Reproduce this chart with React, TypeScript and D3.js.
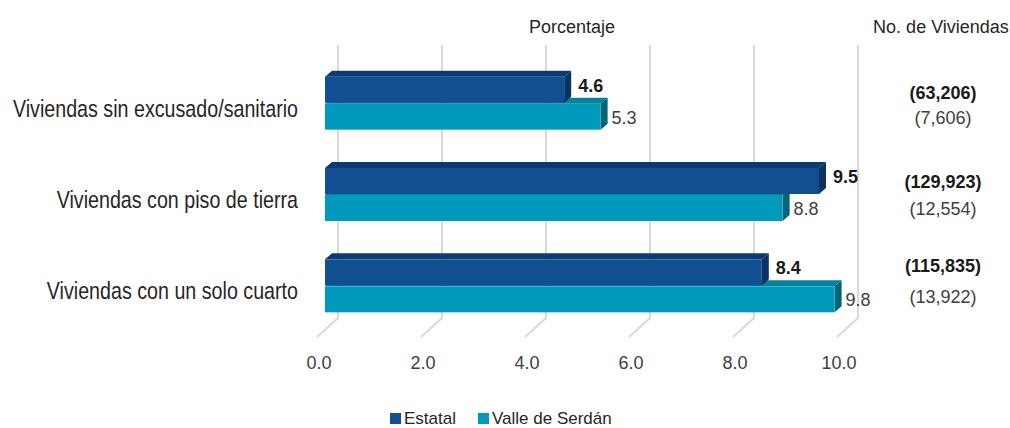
import React, { Component } from "react";
import * as d3 from "d3";

const categories = [
  "Viviendas sin excusado/sanitario",
  "Viviendas con piso de tierra",
  "Viviendas con un solo cuarto",
];
const estatal = [4.6, 9.5, 8.4];
const valle = [5.3, 8.8, 9.8];
const estatalCount = [63206, 129923, 115835];
const valleCount = [7606, 12554, 13922];
const xTicks = [0, 2, 4, 6, 8, 10];
const seriesNames = ["Estatal", "Valle de Serdán"];

const FONT = "'Liberation Sans', Arial, sans-serif";

class App extends Component {
  svgRef = React.createRef<SVGSVGElement>();

  componentDidMount() {
    this.updateChart();
  }

  componentDidUpdate() {
    this.updateChart();
  }

  updateChart() {
    const width = 1010;
    const height = 428;
    const svg = d3.select(this.svgRef.current);
    svg.selectAll("*").remove();
    svg.attr("width", width).attr("height", height);

    // depth of the floor / back wall
    const depthX = 21;
    const depthY = -19;
    const wallTop = 45;
    const floorBack = 318;

    const xScale = d3.scaleLinear().domain([0, 10]).range([317, 837]);
    const yScale = d3.scaleBand().domain(categories).range([57, 331]);

    // back wall grid and floor lines
    const grid = svg.append("g");
    xTicks.forEach((t) => {
      const xb = xScale(t) + depthX;
      grid.append("path")
        .attr("d", `M${xb},${wallTop}V${floorBack}L${xScale(t)},${floorBack - depthY}`)
        .attr("fill", "none")
        .attr("stroke", "#d9d9d9")
        .attr("stroke-width", 2);
    });

    // x tick labels
    svg.append("g")
      .selectAll("text")
      .data(xTicks)
      .join("text")
      .attr("x", (d) => xScale(d) + 2)
      .attr("y", 369)
      .attr("text-anchor", "middle")
      .style("font-family", FONT)
      .style("font-size", "18px")
      .style("fill", "#404040")
      .text((d) => d3.format(".1f")(d));

    // 3D bars
    const barOff = 8;
    const bx = 7;
    const by = -6;
    const barH = 26;
    const x0 = xScale(0) + barOff;
    const unit = xScale(1) - xScale(0);

    const drawBar = (g, v, y, front, top, side) => {
      const x1 = x0 + v * unit;
      g.append("path")
        .attr("d", `M${x0},${y}L${x0 + bx},${y + by}L${x1 + bx},${y + by}L${x1},${y}Z`)
        .attr("fill", top);
      g.append("path")
        .attr("d", `M${x1},${y}L${x1 + bx},${y + by}L${x1 + bx},${y + barH + by}L${x1},${y + barH}Z`)
        .attr("fill", side);
      g.append("rect")
        .attr("x", x0)
        .attr("y", y)
        .attr("width", x1 - x0)
        .attr("height", barH)
        .attr("fill", front);
      return x1 + bx;
    };

    const bars = svg.append("g");
    categories.forEach((c, i) => {
      const mid = yScale(c) + yScale.bandwidth() / 2;
      const g = bars.append("g");
      const vEnd = drawBar(g, valle[i], mid + 1, "#019abc", "#0a7f99", "#01657a");
      const eEnd = drawBar(g, estatal[i], mid - barH, "#124f91", "#0d3b71", "#0b3264");

      g.append("text")
        .attr("x", eEnd + 7)
        .attr("y", mid - barH / 2 + 2)
        .style("font-family", FONT)
        .style("font-size", "18px")
        .style("font-weight", "bold")
        .style("fill", "#1a1a1a")
        .text(d3.format(".1f")(estatal[i]));

      g.append("text")
        .attr("x", vEnd + 4)
        .attr("y", mid + barH / 2 + 8)
        .style("font-family", FONT)
        .style("font-size", "18px")
        .style("fill", "#404040")
        .text(d3.format(".1f")(valle[i]));
    });

    // category labels (condensed, like Arial Narrow)
    svg.append("g")
      .selectAll("text")
      .data(categories)
      .join("text")
      .attr("transform", (d) => `translate(298,${yScale(d) + yScale.bandwidth() / 2 + 14}) scale(0.82,1)`)
      .attr("text-anchor", "end")
      .style("font-family", FONT)
      .style("font-size", "24px")
      .style("fill", "#262626")
      .text((d) => d);

    // headers
    svg.append("text")
      .attr("x", 572)
      .attr("y", 33)
      .attr("text-anchor", "middle")
      .style("font-family", FONT)
      .style("font-size", "18px")
      .style("fill", "#262626")
      .text("Porcentaje");

    svg.append("text")
      .attr("x", 941)
      .attr("y", 33)
      .attr("text-anchor", "middle")
      .style("font-family", FONT)
      .style("font-size", "18px")
      .style("fill", "#262626")
      .text("No. de Viviendas");

    // counts column
    const countDy = [[-4, 21], [-6, 21], [-13, 18]];
    const fmt = d3.format(",");
    const counts = svg.append("g");
    categories.forEach((c, i) => {
      const mid = yScale(c) + yScale.bandwidth() / 2;
      counts.append("text")
        .attr("x", 943)
        .attr("y", mid + countDy[i][0])
        .attr("text-anchor", "middle")
        .style("font-family", FONT)
        .style("font-size", "18px")
        .style("font-weight", "bold")
        .style("fill", "#1a1a1a")
        .text(`(${fmt(estatalCount[i])})`);
      counts.append("text")
        .attr("x", 943)
        .attr("y", mid + countDy[i][1])
        .attr("text-anchor", "middle")
        .style("font-family", FONT)
        .style("font-size", "18px")
        .style("fill", "#404040")
        .text(`(${fmt(valleCount[i])})`);
    });

    // legend
    const legendX = [390, 478];
    const legendColors = ["#124f91", "#019abc"];
    const legend = svg.append("g");
    seriesNames.forEach((name, i) => {
      legend.append("rect")
        .attr("x", legendX[i])
        .attr("y", 413)
        .attr("width", 11)
        .attr("height", 11)
        .attr("fill", legendColors[i]);
      legend.append("text")
        .attr("x", legendX[i] + 14)
        .attr("y", 424)
        .style("font-family", FONT)
        .style("font-size", "17px")
        .style("fill", "#262626")
        .text(name);
    });
  }

  render() {
    return (
      <svg
        ref={this.svgRef}
        style={{ position: "absolute", left: 0, top: 0, background: "#fff" }}
      />
    );
  }
}

export default App;
